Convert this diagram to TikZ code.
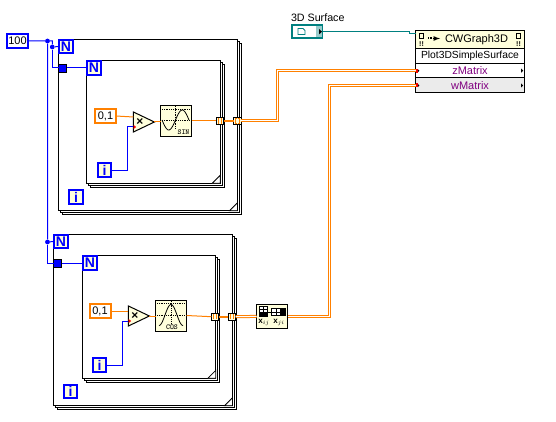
\documentclass[tikz,border=0pt]{standalone}
\usepackage{fontspec}
\setmainfont{Liberation Sans}
\usetikzlibrary{calc}
\definecolor{lvblue}{HTML}{0000FF}
\definecolor{lvorange}{HTML}{FF8000}
\definecolor{lvyellow}{HTML}{FFFFDC}
\definecolor{lvteal}{HTML}{008080}
\definecolor{lvpurple}{HTML}{800080}
\definecolor{lvgrey}{HTML}{EBEBEB}
\tikzset{
 box/.style={rectangle,inner sep=0pt,outer sep=0pt,font=\fontsize{11}{11}\selectfont},
 ctlblue/.style={box,draw=lvblue,line width=2pt,fill=white,minimum width=21pt,minimum height=14pt},
 ctlorange/.style={box,draw=lvorange,line width=2pt,fill=white,minimum width=21pt,minimum height=14pt},
 term/.style={box,draw=lvblue,line width=2pt,fill=lvyellow,text=lvblue,minimum width=13.5pt,minimum height=13.5pt,font=\fontsize{14}{14}\selectfont\bfseries},
 sq/.style={box,draw=black,line width=.8pt,fill=lvblue,minimum width=8pt,minimum height=8pt},
 tunnel/.style={box,draw=black,line width=1pt,fill=lvyellow,minimum width=7.4pt,minimum height=7.4pt},
 icon/.style={box,draw=black,line width=1pt,fill=lvyellow,minimum width=31pt,minimum height=31pt},
 mult/.style={draw=black,line width=1pt,fill=lvyellow},
 wblue/.style={draw=lvblue,line width=1pt},
 worange/.style={draw=lvorange,line width=1pt},
 wthick/.style={draw=lvorange,line width=2.4pt},
 wdouble/.style={draw=white,line width=1pt,preaction={draw=lvorange,line width=3pt}},
 dot/.style={circle,fill=lvblue,inner sep=0pt,minimum size=4.8pt},
 frame/.style={draw=black,line width=1pt,fill=white},
 row/.style={box,draw=black,line width=1pt,minimum width=108.4pt,minimum height=15pt,text=lvpurple},
}
\newcommand{\loopframe}[4]{% x0 y0 x1 y1
 \draw[frame] ({#1+4},{#2+4}) rectangle ({#3+4},{#4+4});
 \draw[frame] ({#1+2},{#2+2}) rectangle ({#3+2},{#4+2});
 \draw[frame] (#1,#2) rectangle (#3,#4);
 \draw[draw=black,line width=.8pt,fill=white] ({#3-8},#4) -- (#3,{#4-8}) -- (#3,#4) -- cycle;
}
\newcommand{\brk}[1]{%
 \draw[lvorange,line width=1pt] ($(#1)+(-.6,-2.2)$) -- ++(-1.2,0) -- ++(0,4.4) -- ++(1.2,0);
 \draw[lvorange,line width=1pt] ($(#1)+(.6,-2.2)$) -- ++(1.2,0) -- ++(0,4.4) -- ++(-1.2,0);
}
\newcommand{\multi}[3]{% name, left x, mid y
 \draw[mult] (#2,{#3-10}) -- ({#2+21},#3) -- (#2,{#3+10}) -- cycle;
 \coordinate (#1a) at (#2,{#3-5});
 \coordinate (#1b) at (#2,{#3+5});
 \coordinate (#1o) at ({#2+21},#3);
 \node[font=\fontsize{12}{12}\selectfont\bfseries,inner sep=0] at ({#2+6.5},#3) {×};
 \fill[red] ({#2+.2},{#3+3}) -- ({#2+2.8},{#3+5}) -- ({#2+.2},{#3+7}) -- cycle;
}
\begin{document}
\begin{tikzpicture}[x=1pt,y=-1pt]
\useasboundingbox[fill=white] (0,0) rectangle (556,422);
% frames
\loopframe{58.5}{39.5}{237.5}{210.7}
\loopframe{86.5}{60.5}{220.2}{183.3}
\loopframe{53.5}{234.5}{232.5}{405.7}
\loopframe{82.5}{255.5}{215.8}{378.3}
% nodes
\node[ctlblue] (hund) at (17.5,41) {100};
\node[dot] (j1) at (47.5,41) {};
\node[dot] (j2) at (52.3,47) {};
\node[dot] (j3) at (47.5,242) {};
\node[term] (n1) at (66,46.5) {N};
\node[sq] (s1) at (62.5,68) {};
\node[term] (n2) at (94,68) {N};
\node[term] (n3) at (61,241.5) {N};
\node[sq] (s2) at (57.5,263) {};
\node[term] (n4) at (90,263) {N};
\node[term] (i1) at (76,197) {i};
\node[term] (i2) at (104.5,170) {i};
\node[term] (i3) at (70.5,391.5) {i};
\node[term] (i4) at (99.5,365) {i};
\node[ctlorange] (c1) at (105.5,116) {0,1};
\node[ctlorange] (c2) at (100,311) {0,1};
\node[icon] (sin) at (176,121) {};
\node[icon] (cos) at (171,315.5) {};
\node[tunnel] (t1) at (220,121) {};
\node[tunnel] (t2) at (237.3,121) {};
\node[tunnel] (t3) at (215,316.7) {};
\node[tunnel] (t4) at (232,316.7) {};
\node[box,draw=black,line width=1pt,fill=lvyellow,minimum width=31pt,minimum height=24pt] (tr) at (272,316.4) {};
% multiply
\multi{m1}{133.4}{122}
\multi{m2}{128.4}{316}
% graph node
\node[box,minimum width=108.4pt,minimum height=18.3pt,draw=black,line width=1pt,fill=lvyellow,font=\fontsize{11}{11}\selectfont] (hdr) at (470,39.8) {\hspace{13pt}CWGraph3D};
\node[row,text=black,fill=white,font=\fontsize{10.3}{10.3}\selectfont] (plot) at (470,56) {Plot3DSimpleSurface};
\node[row,fill=white] (zrow) at (470,70.7) {zMatrix};
\node[row,fill=lvgrey] (wrow) at (470,85.5) {wMatrix};
% refnum
\node[box,draw=lvteal,line width=2pt,fill=white,minimum width=29.5pt,minimum height=13.3pt] (ref) at (307,31.7) {};
\node[box,anchor=south west,font=\fontsize{10.7}{10.7}\selectfont] (lab) at (291,22) {3D Surface};
\coordinate (w1) at (277.3,121);
\coordinate (w2) at (277.3,70.7);
\coordinate (w3) at (329.3,316.4);
\coordinate (w4) at (329.3,85.5);
\coordinate (b1) at (127.5,170);
\coordinate (b2) at (122.5,365);
\coordinate (tk1) at (409.5,31.7);
\coordinate (tk2) at (409.5,34);
% wires
\draw[wblue] (hund) -- (j1) -- (52.3,41) -- (j2) -- (n1.west);
\draw[wblue] (j2) -- (s1.west -| j2) -- (s1.west);
\draw[wblue] (s1) -- (n2);
\draw[wblue] (j1) -- (j3) -- (n3.west);
\draw[wblue] (j3) -- (s2.west -| j3) -- (s2.west);
\draw[wblue] (s2) -- (n4);
\draw[worange] (c1.east) -- (m1a);
\draw[worange] (c2.east) -- (m2a);
\draw[wblue] (i2.east) -- (b1) -- (b1 |- m1b) -- (m1b);
\draw[wblue] (i4.east) -- (b2) -- (b2 |- m2b) -- (m2b);
\draw[worange] (m1o) -- (m1o -| sin.west);
\draw[worange] (m2o) -- (m2o -| cos.west);
\draw[worange] (sin.east) -- (t1.west);
\draw[worange] (cos.east) -- (t3.west);
\draw[wthick] (t1.east) -- (t2.west);
\draw[wthick] (t3.east) -- (t4.west);
\draw[wdouble] (t2.east) -- (w1) -- (w2) -- (zrow.west);
\draw[wdouble] (t4.east) -- (tr.west);
\draw[wdouble] (tr.east) -- (w3) -- (w4) -- (wrow.west);
\draw[draw=lvteal,line width=1pt] (ref.east) -- (tk1) -- (tk2) -- (tk2 -| hdr.west);
% tunnels
\brk{t1}\brk{t2}\brk{t3}\brk{t4}
% refnum inner
\fill[lvteal!40] (315.5,26) rectangle (321.5,37.5);
\draw[lvteal,line width=.8pt] (298,28.5) -- (303,28.5) -- (305,30.5) -- (305,34.5) -- (298,34.5) -- cycle;
\fill[black] (319,29) -- (322,31.7) -- (319,34.4) -- cycle;
% terminals on rows
\foreach \n in {zrow,wrow}{
 \fill[red] (\n.west) ++(0,-2) rectangle ++(2,4);
 \fill[black] ($(\n.west)+(2,-1.5)$) -- ++(1.5,1.5) -- ++(-1.5,1.5) -- cycle;
 \fill[black] ($(\n.east)+(-3,-2)$) -- ++(2,2) -- ++(-2,2) -- cycle;
}
% header glyphs
\foreach \x in {419.5,516.5}{
 \draw[black,line width=.8pt] (\x,33) rectangle ++(4,5);
 \node[font=\fontsize{7}{7}\selectfont\bfseries,inner sep=0] at (\x+2,44) {!!};
}
\fill[black] (428,37.5) rectangle ++(1.4,2);
\fill[black] (430.4,37.5) rectangle ++(1.4,2);
\draw[-latex,black,line width=1.2pt] (432.5,38.5) -- (440,38.5);
% SIN icon
\begin{scope}[shift={(sin.center)}]
 \draw[black,line width=.8pt,densely dotted] (-14,-12) -- (14,-12) (-14,-1) -- (14,-1) (-1,-14.5) -- (-1,8);
 \draw[black,line width=.8pt,domain=-14:13,samples=50,smooth] plot (\x,{-1+10*sin((\x+.5)*180/13.5)*-1});
 \node[font=\fontsize{7.5}{7.5}\ttfamily\bfseries,inner sep=0] at (7.5,11.5) {SIN};
\end{scope}
% COS icon
\begin{scope}[shift={(cos.center)}]
 \draw[black,line width=.8pt,densely dotted] (-14,-12) -- (14,-12) (-14,0) -- (14,0) (0,-14.5) -- (0,8);
 \draw[black,line width=.8pt,domain=-12:12,samples=50,smooth] plot (\x,{10-21*(1+cos(\x*180/12))/2});
 \node[font=\fontsize{7.5}{7.5}\ttfamily\bfseries,inner sep=0] at (1,11.5) {COS};
\end{scope}
% transpose icon
\begin{scope}[shift={(tr.center)}]
 \draw[black,line width=.6pt,fill=white] (-12.5,-10) rectangle (-4.5,-.5);
 \fill[black] (-12.5,-4) rectangle (-4.5,-.5);
 \draw[black,line width=.6pt] (-8.5,-10) -- (-8.5,-4) (-12.5,-7) -- (-4.5,-7);
 \draw[black,line width=.6pt,fill=white] (-.5,-8) rectangle (13,-1);
 \fill[black] (8,-8) rectangle (13,-1);
 \draw[black,line width=.6pt] (4,-8) -- (4,-1) (-.5,-4.5) -- (8,-4.5);
 \draw[black,line width=.8pt] (-4,-4.5) -- (-.5,-4.5);
 \node[font=\fontsize{8}{8}\selectfont\bfseries,inner sep=0] at (-8,6) {x$_{ij}$};
 \node[font=\fontsize{8}{8}\selectfont\bfseries,inner sep=0] at (7,6) {x$_{ji}$};
\end{scope}
\end{tikzpicture}
\end{document}
